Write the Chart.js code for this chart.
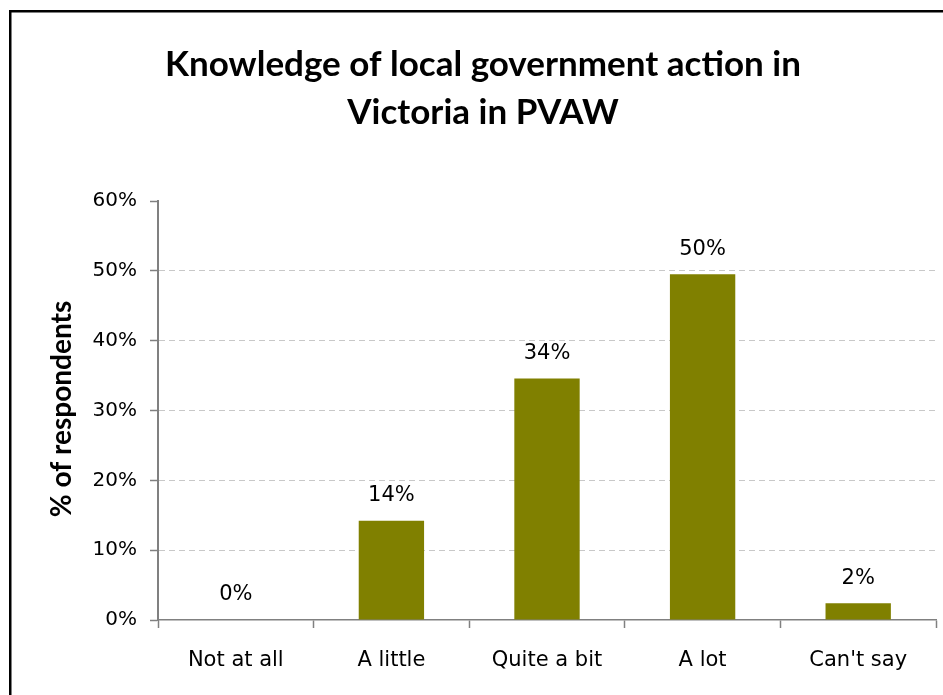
<!DOCTYPE html>
<html>
<head>
<meta charset="utf-8">
<script src="https://cdn.jsdelivr.net/npm/chart.js@4.4.0/dist/chart.umd.min.js"></script>
<style>
  html, body { margin: 0; padding: 0; background: #ffffff; }
  #wrap { position: relative; width: 943px; height: 695px; }
  canvas { display: block; }
</style>
</head>
<body>
<div id="wrap"><canvas id="c" width="943" height="695"></canvas></div>
<script>
const categories = ["Not at all", "A little", "Quite a bit", "A lot", "Can't say"];
const values = [0, 14.2, 34.6, 49.5, 2.4];
const valueLabels = ["0%", "14%", "34%", "50%", "2%"];
const titleLines = ["Knowledge of local government action in", "Victoria in PVAW"];
const yAxisTitle = "% of respondents";

const framePlugin = {
  id: 'frame',
  beforeDraw(chart) {
    const ctx = chart.ctx;
    ctx.save();
    ctx.fillStyle = '#ffffff';
    ctx.fillRect(0, 0, chart.width, chart.height);
    ctx.strokeStyle = '#000000';
    ctx.lineWidth = 2.5;
    ctx.beginPath();
    ctx.moveTo(10.25, chart.height + 5);
    ctx.lineTo(10.25, 11.25);
    ctx.lineTo(chart.width + 5, 11.25);
    ctx.stroke();
    ctx.restore();
  },
  afterDraw(chart) {
    const ctx = chart.ctx;
    ctx.save();
    // Title
    ctx.fillStyle = '#000000';
    ctx.font = 'bold 35px Lato';
    ctx.textAlign = 'center';
    ctx.textBaseline = 'middle';
    ctx.fillText(titleLines[0], 483, 65);
    ctx.fillText(titleLines[1], 483, 113);
    // Y axis title
    ctx.save();
    ctx.translate(62, 409);
    ctx.rotate(-Math.PI / 2);
    ctx.font = 'bold 28px Lato';
    ctx.fillText(yAxisTitle, 0, 0);
    ctx.restore();
    // Data labels
    const meta = chart.getDatasetMeta(0);
    ctx.font = '21px "DejaVu Sans"';
    ctx.fillStyle = '#000000';
    meta.data.forEach((bar, i) => {
      ctx.fillText(valueLabels[i], bar.x, bar.y - 25);
    });
    ctx.restore();
  }
};

new Chart(document.getElementById('c'), {
  type: 'bar',
  data: {
    labels: categories,
    datasets: [{
      data: values,
      backgroundColor: '#808000',
      borderWidth: 0,
      categoryPercentage: 1.0,
      barPercentage: 0.42
    }]
  },
  options: {
    responsive: false,
    animation: false,
    devicePixelRatio: 1,
    layout: { padding: { left: 0, top: 201, right: 7, bottom: 0 } },
    plugins: { legend: { display: false }, title: { display: false }, tooltip: { enabled: false } },
    scales: {
      x: {
        afterFit(scale) { scale.height = 75; },
        grid: {
          offset: true,
          drawOnChartArea: false,
          drawTicks: true,
          tickLength: 8,
          tickColor: '#808080',
          tickWidth: 1.5
        },
        border: { display: true, color: '#808080', width: 1.5 },
        ticks: {
          color: '#000000',
          font: { family: 'DejaVu Sans', size: 21 },
          padding: 20,
          maxRotation: 0
        }
      },
      y: {
        min: 0,
        max: 60,
        afterFit(scale) { scale.width = 158; },
        ticks: {
          stepSize: 10,
          color: '#000000',
          font: { family: 'DejaVu Sans', size: 20 },
          padding: 13,
          callback: (v) => v + '%'
        },
        grid: {
          color: (c) => (c.tick && (c.tick.value === 0 || c.tick.value === 60)) ? 'rgba(0,0,0,0)' : '#c8c8c8',
          lineWidth: 1,
          tickLength: 8,
          tickColor: '#808080',
          tickWidth: 1.5,
          tickBorderDash: []
        },
        border: { display: true, color: '#808080', width: 2, dash: [6, 4] }
      }
    }
  },
  plugins: [framePlugin]
});
</script>
</body>
</html>
